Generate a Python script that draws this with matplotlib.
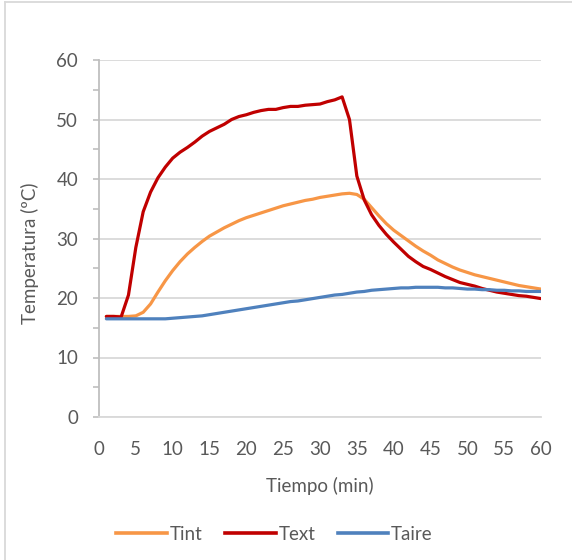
import matplotlib
matplotlib.use("Agg")
import matplotlib.pyplot as plt
from matplotlib.lines import Line2D
from matplotlib.ticker import MultipleLocator

# Time in minutes
tiempo = list(range(1, 61))

# Interior temperature (ºC)
tint = [16.9, 16.9, 16.9, 16.9, 17.0, 17.6, 19.0, 21.0, 22.9, 24.6,
        26.1, 27.4, 28.5, 29.5, 30.4, 31.1, 31.8, 32.4, 33.0, 33.5,
        33.9, 34.3, 34.7, 35.1, 35.5, 35.8, 36.1, 36.4, 36.6, 36.9,
        37.1, 37.3, 37.5, 37.6, 37.4, 36.6, 35.2, 33.8, 32.5, 31.4,
        30.5, 29.6, 28.7, 27.9, 27.2, 26.4, 25.8, 25.2, 24.7, 24.3,
        23.9, 23.6, 23.3, 23.0, 22.7, 22.4, 22.1, 21.9, 21.7, 21.5]

# Exterior surface temperature (ºC)
text = [16.9, 16.9, 16.8, 20.5, 28.5, 34.5, 37.8, 40.2, 42.0, 43.5,
        44.5, 45.3, 46.2, 47.2, 48.0, 48.6, 49.2, 50.0, 50.5, 50.8,
        51.2, 51.5, 51.7, 51.7, 52.0, 52.2, 52.2, 52.4, 52.5, 52.6,
        53.0, 53.3, 53.8, 50.0, 40.5, 36.5, 34.0, 32.2, 30.7, 29.4,
        28.2, 27.0, 26.1, 25.3, 24.8, 24.2, 23.6, 23.1, 22.6, 22.3,
        22.0, 21.6, 21.3, 21.0, 20.8, 20.6, 20.4, 20.3, 20.1, 19.9]

# Air temperature (ºC)
taire = [16.5, 16.5, 16.5, 16.5, 16.5, 16.5, 16.5, 16.5, 16.5, 16.6,
         16.7, 16.8, 16.9, 17.0, 17.2, 17.4, 17.6, 17.8, 18.0, 18.2,
         18.4, 18.6, 18.8, 19.0, 19.2, 19.4, 19.5, 19.7, 19.9, 20.1,
         20.3, 20.5, 20.6, 20.8, 21.0, 21.1, 21.3, 21.4, 21.5, 21.6,
         21.7, 21.7, 21.8, 21.8, 21.8, 21.8, 21.7, 21.7, 21.6, 21.5,
         21.5, 21.4, 21.4, 21.3, 21.3, 21.2, 21.2, 21.1, 21.1, 21.1]

series_names = ["Tint", "Text", "Taire"]
series_colors = ["#F79646", "#C00000", "#4F81BD"]

plt.rcParams["font.family"] = ["Lato", "DejaVu Sans"]
TXT = "#595959"
GRID = "#D9D9D9"

fig = plt.figure(figsize=(5.72, 5.60), dpi=100)
ax = fig.add_axes([99 / 572, (560 - 417) / 560, (541 - 99) / 572, (417 - 60) / 560])

for name, ys, col in zip(series_names, [tint, text, taire], series_colors):
    ax.plot(tiempo, ys, color=col, lw=2.3, solid_joinstyle="round",
            solid_capstyle="round", label=name, zorder=3)

ax.set_xlim(0, 60)
ax.set_ylim(0, 60)
ax.xaxis.set_major_locator(MultipleLocator(5))
ax.yaxis.set_major_locator(MultipleLocator(10))
ax.yaxis.set_minor_locator(MultipleLocator(5))
ax.grid(axis="y", which="major", color=GRID, lw=1.3, zorder=1)

for s in ["top", "right"]:
    ax.spines[s].set_visible(False)
ax.spines["left"].set_color("#BFBFBF")
ax.spines["bottom"].set_color(GRID)
ax.spines["left"].set_linewidth(1.3)
ax.spines["bottom"].set_linewidth(1.3)

ax.tick_params(axis="x", length=0, pad=17, labelsize=13.5, labelcolor=TXT)
ax.tick_params(axis="y", which="both", length=4, width=1.2, color="#BFBFBF",
               pad=11, labelsize=13.5, labelcolor=TXT)

ax.set_xlabel("Tiempo (min)", fontsize=13.5, color=TXT, labelpad=14)
ax.set_ylabel("Temperatura (ºC)", fontsize=13.5, color=TXT)
ax.yaxis.set_label_coords(-0.136, 0.46)

handles = [Line2D([], [], color=c, lw=2.6) for c in series_colors]
fig.legend(handles, series_names, loc="center", bbox_to_anchor=(0.48, (560 - 534) / 560),
           ncol=3, frameon=False, fontsize=13.5, handlelength=2.7, handletextpad=0.15,
           columnspacing=1.2, labelcolor=TXT)

# Chart-area border (left and top edges)
fig.add_artist(Line2D([5 / 572, 5 / 572], [0, 1 - 2 / 560], transform=fig.transFigure,
                      color="#D9D9D9", lw=1.3))
fig.add_artist(Line2D([5 / 572, 1], [1 - 2 / 560, 1 - 2 / 560], transform=fig.transFigure,
                      color="#D9D9D9", lw=1.3))

fig.savefig("out.png", dpi=100, facecolor="white")
